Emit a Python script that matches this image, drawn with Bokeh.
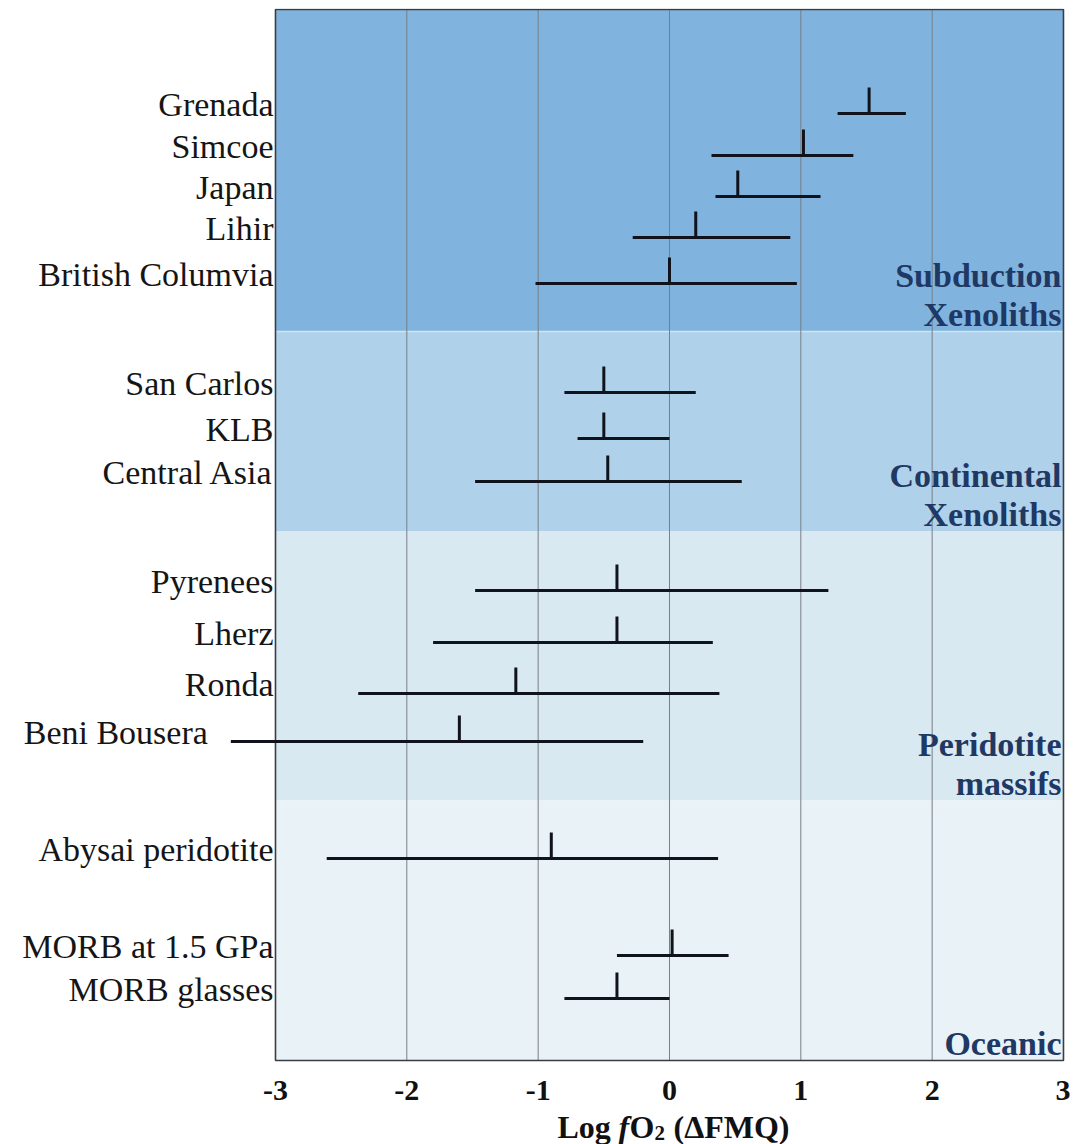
from bokeh.plotting import figure
from bokeh.models import Range1d, FixedTicker, ColumnDataSource
from bokeh.layouts import column
from bokeh.core.properties import value
from bokeh.embed import file_html
from bokeh.resources import INLINE

# ---------------- data ----------------
samples = ["Grenada", "Simcoe", "Japan", "Lihir", "British Columvia",
           "San Carlos", "KLB", "Central Asia",
           "Pyrenees", "Lherz", "Ronda", "Beni Bousera",
           "Abysai peridotite", "MORB at 1.5 GPa", "MORB glasses"]
fo2_low = [1.28, 0.32, 0.35, -0.28, -1.02,
           -0.80, -0.70, -1.48,
           -1.48, -1.80, -2.37, -3.34,
           -2.61, -0.40, -0.80]
fo2_high = [1.80, 1.40, 1.15, 0.92, 0.97,
            0.20, 0.00, 0.55,
            1.21, 0.33, 0.38, -0.20,
            0.37, 0.45, 0.00]
fo2_best = [1.52, 1.02, 0.52, 0.20, 0.00,
            -0.50, -0.50, -0.47,
            -0.40, -0.40, -1.17, -1.60,
            -0.90, 0.02, -0.40]
# vertical slot of each row (top-down layout positions)
row_pos = [113, 155, 196, 237, 283,
           392, 438, 481,
           590, 642, 693, 741,
           858, 955, 998]

group_line1 = ["Subduction", "Continental", "Peridotite", ""]
group_line2 = ["Xenoliths", "Xenoliths", "massifs", "Oceanic"]
group_top = [9, 331, 531, 800]
group_bottom = [331, 531, 800, 1060]
group_colors = ["#80b4de", "#b0d1ea", "#d8e9f1", "#e9f2f6"]

x_ticks = [-3, -2, -1, 0, 1, 2, 3]
x_min, x_max = -3, 3
tick_len = 26

# axis title pieces: Log fO2 (ΔFMQ)
title_text = ["Log", "f", "O", "2", "(\u0394FMQ)"]
title_style = ["bold", "bold italic", "bold", "bold", "bold"]
title_size = ["32px", "32px", "32px", "21px", "32px"]
title_dx = [-112, -51, -40, -15, 4]
title_dy = [0, 0, 0, 6, 0]

FONT = value("Liberation Serif")
TXT_SHIFT = -11  # baseline correction for svg text

x_range = Range1d(-5.033, 3.023)

p = figure(width=1070, height=1108,
           x_range=x_range, y_range=Range1d(1062, 8),
           output_backend="svg", toolbar_location=None,
           y_axis_location=None,
           min_border_left=8, min_border_right=4,
           min_border_top=8, min_border_bottom=46)
p.outline_line_color = None
p.background_fill_color = "white"
p.border_fill_color = "white"
p.grid.visible = False

# bands
p.quad(left=x_min, right=x_max, top=group_top, bottom=group_bottom,
       fill_color=group_colors, line_color=None)
p.segment(x0=x_min, x1=x_max, y0=group_bottom[0], y1=group_bottom[0],
          line_color="#cfe3f3", line_width=1.5)

# grid lines
inner = [t for t in x_ticks if x_min < t < x_max]
p.segment(x0=inner, x1=inner, y0=[group_top[0]] * len(inner),
          y1=[group_bottom[-1]] * len(inner), line_color="#7a7f86", line_width=1)

# frame
p.quad(left=x_min, right=x_max, top=group_top[0], bottom=group_bottom[-1],
       fill_color=None, line_color="#3a3d44", line_width=1.6)

# ranges and best estimates
p.segment(x0=fo2_low, x1=fo2_high, y0=row_pos, y1=row_pos,
          line_color="#10131c", line_width=3)
p.segment(x0=fo2_best, x1=fo2_best, y0=row_pos,
          y1=[y - tick_len for y in row_pos],
          line_color="#10131c", line_width=3)

# row labels
label_x = [min(x_min, lo - 0.16) for lo in fo2_low]
p.text(x=label_x, y=row_pos, text=samples, x_offset=-2, y_offset=2 + TXT_SHIFT,
       text_align="right", text_baseline="alphabetic",
       text_font=FONT, text_font_size="34px", text_color="#151515")

# group labels
p.text(x=[x_max] * 4, y=group_bottom, text=group_line1, x_offset=-2,
       y_offset=-45 + TXT_SHIFT,
       text_align="right", text_baseline="alphabetic",
       text_font=FONT, text_font_size="34px", text_font_style="bold",
       text_color="#1f3864")
p.text(x=[x_max] * 4, y=group_bottom, text=group_line2, x_offset=-2,
       y_offset=-6 + TXT_SHIFT,
       text_align="right", text_baseline="alphabetic",
       text_font=FONT, text_font_size="34px", text_font_style="bold",
       text_color="#1f3864")

# x axis
ax = p.xaxis[0]
ax.ticker = FixedTicker(ticks=x_ticks)
ax.major_label_overrides = {t: str(t) for t in x_ticks}
ax.axis_line_color = None
ax.major_tick_line_color = None
ax.minor_tick_line_color = None
ax.major_label_standoff = 12
ax.major_label_text_font = "Liberation Serif"
ax.major_label_text_font_size = "30px"
ax.major_label_text_font_style = "bold"
ax.major_label_text_color = "#111111"

# axis title strip (shares the x scale)
t = figure(width=1070, height=36, x_range=x_range, y_range=Range1d(1144, 1108),
           output_backend="svg", toolbar_location=None,
           x_axis_location=None, y_axis_location=None,
           min_border_left=8, min_border_right=4,
           min_border_top=0, min_border_bottom=0)
t.outline_line_color = None
t.grid.visible = False
t.background_fill_color = "white"
t.border_fill_color = "white"
src = ColumnDataSource(dict(
    x=[0] * len(title_text),
    y=[1137 + TXT_SHIFT + d for d in title_dy],
    text=title_text, style=title_style, size=title_size, dx=title_dx))
t.text(x="x", y="y", text="text", x_offset="dx", source=src,
       text_font_style="style", text_font_size="size",
       text_align="left", text_baseline="alphabetic",
       text_font=FONT, text_color="#111111")

layout = column(p, t, spacing=0)
open("out.html", "w").write(file_html(layout, INLINE))
